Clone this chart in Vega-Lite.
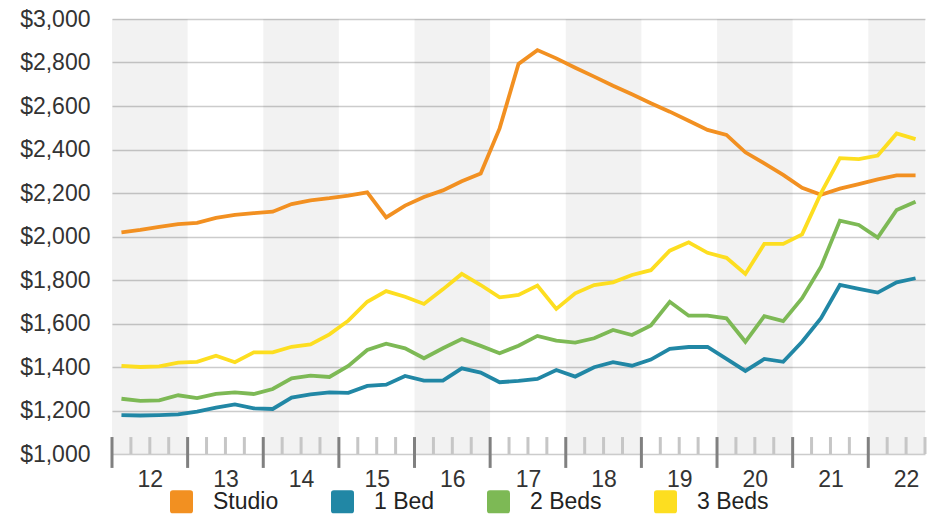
{
  "$schema": "https://vega.github.io/schema/vega-lite/v6.json",
  "width": 813,
  "height": 435,
  "autosize": {"type": "none"},
  "padding": {"left": 112, "top": 19, "right": 18, "bottom": 61},
  "background": "white",
  "config": {
    "view": {"stroke": null},
    "font": "Liberation Sans",
    "axis": {"labelFont": "Liberation Sans", "labelFontSize": 23, "labelColor": "#333"}
  },
  "datasets": {
    "bands": [
      {"start": 2012, "end": 2013},
      {"start": 2014, "end": 2015},
      {"start": 2016, "end": 2017},
      {"start": 2018, "end": 2019},
      {"start": 2020, "end": 2021},
      {"start": 2022, "end": 2022.75}
    ],
    "major": [
      {"t": 2012}, {"t": 2013}, {"t": 2014}, {"t": 2015}, {"t": 2016}, {"t": 2017},
      {"t": 2018}, {"t": 2019}, {"t": 2020}, {"t": 2021}, {"t": 2022}
    ],
    "minor": [
      {"t": 2012.25}, {"t": 2012.5}, {"t": 2012.75},
      {"t": 2013.25}, {"t": 2013.5}, {"t": 2013.75},
      {"t": 2014.25}, {"t": 2014.5}, {"t": 2014.75},
      {"t": 2015.25}, {"t": 2015.5}, {"t": 2015.75},
      {"t": 2016.25}, {"t": 2016.5}, {"t": 2016.75},
      {"t": 2017.25}, {"t": 2017.5}, {"t": 2017.75},
      {"t": 2018.25}, {"t": 2018.5}, {"t": 2018.75},
      {"t": 2019.25}, {"t": 2019.5}, {"t": 2019.75},
      {"t": 2020.25}, {"t": 2020.5}, {"t": 2020.75},
      {"t": 2021.25}, {"t": 2021.5}, {"t": 2021.75},
      {"t": 2022.25}, {"t": 2022.5}, {"t": 2022.75}
    ],
    "rents": [
      {"t": 2012.125, "type": "Studio", "rent": 2019},
      {"t": 2012.375, "type": "Studio", "rent": 2030},
      {"t": 2012.625, "type": "Studio", "rent": 2044},
      {"t": 2012.875, "type": "Studio", "rent": 2057},
      {"t": 2013.125, "type": "Studio", "rent": 2063},
      {"t": 2013.375, "type": "Studio", "rent": 2086},
      {"t": 2013.625, "type": "Studio", "rent": 2099},
      {"t": 2013.875, "type": "Studio", "rent": 2107},
      {"t": 2014.125, "type": "Studio", "rent": 2114},
      {"t": 2014.375, "type": "Studio", "rent": 2149},
      {"t": 2014.625, "type": "Studio", "rent": 2166},
      {"t": 2014.875, "type": "Studio", "rent": 2176},
      {"t": 2015.125, "type": "Studio", "rent": 2188},
      {"t": 2015.375, "type": "Studio", "rent": 2203},
      {"t": 2015.625, "type": "Studio", "rent": 2088},
      {"t": 2015.875, "type": "Studio", "rent": 2142},
      {"t": 2016.125, "type": "Studio", "rent": 2182},
      {"t": 2016.375, "type": "Studio", "rent": 2212},
      {"t": 2016.625, "type": "Studio", "rent": 2254},
      {"t": 2016.875, "type": "Studio", "rent": 2290},
      {"t": 2017.125, "type": "Studio", "rent": 2497},
      {"t": 2017.375, "type": "Studio", "rent": 2793},
      {"t": 2017.625, "type": "Studio", "rent": 2857},
      {"t": 2017.875, "type": "Studio", "rent": 2819},
      {"t": 2018.125, "type": "Studio", "rent": 2776},
      {"t": 2018.375, "type": "Studio", "rent": 2735},
      {"t": 2018.625, "type": "Studio", "rent": 2693},
      {"t": 2018.875, "type": "Studio", "rent": 2654},
      {"t": 2019.125, "type": "Studio", "rent": 2613},
      {"t": 2019.375, "type": "Studio", "rent": 2574},
      {"t": 2019.625, "type": "Studio", "rent": 2532},
      {"t": 2019.875, "type": "Studio", "rent": 2490},
      {"t": 2020.125, "type": "Studio", "rent": 2467},
      {"t": 2020.375, "type": "Studio", "rent": 2387},
      {"t": 2020.625, "type": "Studio", "rent": 2336},
      {"t": 2020.875, "type": "Studio", "rent": 2283},
      {"t": 2021.125, "type": "Studio", "rent": 2224},
      {"t": 2021.375, "type": "Studio", "rent": 2192},
      {"t": 2021.625, "type": "Studio", "rent": 2220},
      {"t": 2021.875, "type": "Studio", "rent": 2241},
      {"t": 2022.125, "type": "Studio", "rent": 2263},
      {"t": 2022.375, "type": "Studio", "rent": 2281},
      {"t": 2022.625, "type": "Studio", "rent": 2281},
      {"t": 2012.125, "type": "1 Bed", "rent": 1179},
      {"t": 2012.375, "type": "1 Bed", "rent": 1177},
      {"t": 2012.625, "type": "1 Bed", "rent": 1179},
      {"t": 2012.875, "type": "1 Bed", "rent": 1182},
      {"t": 2013.125, "type": "1 Bed", "rent": 1195},
      {"t": 2013.375, "type": "1 Bed", "rent": 1213},
      {"t": 2013.625, "type": "1 Bed", "rent": 1228},
      {"t": 2013.875, "type": "1 Bed", "rent": 1210},
      {"t": 2014.125, "type": "1 Bed", "rent": 1207},
      {"t": 2014.375, "type": "1 Bed", "rent": 1259},
      {"t": 2014.625, "type": "1 Bed", "rent": 1274},
      {"t": 2014.875, "type": "1 Bed", "rent": 1283},
      {"t": 2015.125, "type": "1 Bed", "rent": 1281},
      {"t": 2015.375, "type": "1 Bed", "rent": 1313},
      {"t": 2015.625, "type": "1 Bed", "rent": 1319},
      {"t": 2015.875, "type": "1 Bed", "rent": 1359},
      {"t": 2016.125, "type": "1 Bed", "rent": 1337},
      {"t": 2016.375, "type": "1 Bed", "rent": 1337},
      {"t": 2016.625, "type": "1 Bed", "rent": 1394},
      {"t": 2016.875, "type": "1 Bed", "rent": 1374},
      {"t": 2017.125, "type": "1 Bed", "rent": 1330},
      {"t": 2017.375, "type": "1 Bed", "rent": 1336},
      {"t": 2017.625, "type": "1 Bed", "rent": 1345},
      {"t": 2017.875, "type": "1 Bed", "rent": 1386},
      {"t": 2018.125, "type": "1 Bed", "rent": 1356},
      {"t": 2018.375, "type": "1 Bed", "rent": 1399},
      {"t": 2018.625, "type": "1 Bed", "rent": 1422},
      {"t": 2018.875, "type": "1 Bed", "rent": 1406},
      {"t": 2019.125, "type": "1 Bed", "rent": 1434},
      {"t": 2019.375, "type": "1 Bed", "rent": 1483},
      {"t": 2019.625, "type": "1 Bed", "rent": 1492},
      {"t": 2019.875, "type": "1 Bed", "rent": 1492},
      {"t": 2020.125, "type": "1 Bed", "rent": 1437},
      {"t": 2020.375, "type": "1 Bed", "rent": 1382},
      {"t": 2020.625, "type": "1 Bed", "rent": 1437},
      {"t": 2020.875, "type": "1 Bed", "rent": 1424},
      {"t": 2021.125, "type": "1 Bed", "rent": 1516},
      {"t": 2021.375, "type": "1 Bed", "rent": 1624},
      {"t": 2021.625, "type": "1 Bed", "rent": 1777},
      {"t": 2021.875, "type": "1 Bed", "rent": 1759},
      {"t": 2022.125, "type": "1 Bed", "rent": 1742},
      {"t": 2022.375, "type": "1 Bed", "rent": 1789},
      {"t": 2022.625, "type": "1 Bed", "rent": 1808},
      {"t": 2012.125, "type": "2 Beds", "rent": 1254},
      {"t": 2012.375, "type": "2 Beds", "rent": 1244},
      {"t": 2012.625, "type": "2 Beds", "rent": 1247},
      {"t": 2012.875, "type": "2 Beds", "rent": 1270},
      {"t": 2013.125, "type": "2 Beds", "rent": 1257},
      {"t": 2013.375, "type": "2 Beds", "rent": 1276},
      {"t": 2013.625, "type": "2 Beds", "rent": 1283},
      {"t": 2013.875, "type": "2 Beds", "rent": 1276},
      {"t": 2014.125, "type": "2 Beds", "rent": 1299},
      {"t": 2014.375, "type": "2 Beds", "rent": 1348},
      {"t": 2014.625, "type": "2 Beds", "rent": 1360},
      {"t": 2014.875, "type": "2 Beds", "rent": 1354},
      {"t": 2015.125, "type": "2 Beds", "rent": 1405},
      {"t": 2015.375, "type": "2 Beds", "rent": 1478},
      {"t": 2015.625, "type": "2 Beds", "rent": 1507},
      {"t": 2015.875, "type": "2 Beds", "rent": 1486},
      {"t": 2016.125, "type": "2 Beds", "rent": 1440},
      {"t": 2016.375, "type": "2 Beds", "rent": 1486},
      {"t": 2016.625, "type": "2 Beds", "rent": 1529},
      {"t": 2016.875, "type": "2 Beds", "rent": 1497},
      {"t": 2017.125, "type": "2 Beds", "rent": 1463},
      {"t": 2017.375, "type": "2 Beds", "rent": 1498},
      {"t": 2017.625, "type": "2 Beds", "rent": 1543},
      {"t": 2017.875, "type": "2 Beds", "rent": 1521},
      {"t": 2018.125, "type": "2 Beds", "rent": 1512},
      {"t": 2018.375, "type": "2 Beds", "rent": 1532},
      {"t": 2018.625, "type": "2 Beds", "rent": 1570},
      {"t": 2018.875, "type": "2 Beds", "rent": 1547},
      {"t": 2019.125, "type": "2 Beds", "rent": 1591},
      {"t": 2019.375, "type": "2 Beds", "rent": 1700},
      {"t": 2019.625, "type": "2 Beds", "rent": 1636},
      {"t": 2019.875, "type": "2 Beds", "rent": 1636},
      {"t": 2020.125, "type": "2 Beds", "rent": 1624},
      {"t": 2020.375, "type": "2 Beds", "rent": 1516},
      {"t": 2020.625, "type": "2 Beds", "rent": 1634},
      {"t": 2020.875, "type": "2 Beds", "rent": 1611},
      {"t": 2021.125, "type": "2 Beds", "rent": 1716},
      {"t": 2021.375, "type": "2 Beds", "rent": 1861},
      {"t": 2021.625, "type": "2 Beds", "rent": 2073},
      {"t": 2021.875, "type": "2 Beds", "rent": 2053},
      {"t": 2022.125, "type": "2 Beds", "rent": 1995},
      {"t": 2022.375, "type": "2 Beds", "rent": 2122},
      {"t": 2022.625, "type": "2 Beds", "rent": 2160},
      {"t": 2012.125, "type": "3 Beds", "rent": 1405},
      {"t": 2012.375, "type": "3 Beds", "rent": 1400},
      {"t": 2012.625, "type": "3 Beds", "rent": 1403},
      {"t": 2012.875, "type": "3 Beds", "rent": 1420},
      {"t": 2013.125, "type": "3 Beds", "rent": 1424},
      {"t": 2013.375, "type": "3 Beds", "rent": 1452},
      {"t": 2013.625, "type": "3 Beds", "rent": 1422},
      {"t": 2013.875, "type": "3 Beds", "rent": 1467},
      {"t": 2014.125, "type": "3 Beds", "rent": 1467},
      {"t": 2014.375, "type": "3 Beds", "rent": 1493},
      {"t": 2014.625, "type": "3 Beds", "rent": 1504},
      {"t": 2014.875, "type": "3 Beds", "rent": 1550},
      {"t": 2015.125, "type": "3 Beds", "rent": 1613},
      {"t": 2015.375, "type": "3 Beds", "rent": 1700},
      {"t": 2015.625, "type": "3 Beds", "rent": 1749},
      {"t": 2015.875, "type": "3 Beds", "rent": 1723},
      {"t": 2016.125, "type": "3 Beds", "rent": 1690},
      {"t": 2016.375, "type": "3 Beds", "rent": 1757},
      {"t": 2016.625, "type": "3 Beds", "rent": 1828},
      {"t": 2016.875, "type": "3 Beds", "rent": 1777},
      {"t": 2017.125, "type": "3 Beds", "rent": 1720},
      {"t": 2017.375, "type": "3 Beds", "rent": 1731},
      {"t": 2017.625, "type": "3 Beds", "rent": 1774},
      {"t": 2017.875, "type": "3 Beds", "rent": 1667},
      {"t": 2018.125, "type": "3 Beds", "rent": 1739},
      {"t": 2018.375, "type": "3 Beds", "rent": 1777},
      {"t": 2018.625, "type": "3 Beds", "rent": 1789},
      {"t": 2018.875, "type": "3 Beds", "rent": 1823},
      {"t": 2019.125, "type": "3 Beds", "rent": 1845},
      {"t": 2019.375, "type": "3 Beds", "rent": 1935},
      {"t": 2019.625, "type": "3 Beds", "rent": 1973},
      {"t": 2019.875, "type": "3 Beds", "rent": 1925},
      {"t": 2020.125, "type": "3 Beds", "rent": 1902},
      {"t": 2020.375, "type": "3 Beds", "rent": 1828},
      {"t": 2020.625, "type": "3 Beds", "rent": 1966},
      {"t": 2020.875, "type": "3 Beds", "rent": 1966},
      {"t": 2021.125, "type": "3 Beds", "rent": 2010},
      {"t": 2021.375, "type": "3 Beds", "rent": 2199},
      {"t": 2021.625, "type": "3 Beds", "rent": 2360},
      {"t": 2021.875, "type": "3 Beds", "rent": 2356},
      {"t": 2022.125, "type": "3 Beds", "rent": 2372},
      {"t": 2022.375, "type": "3 Beds", "rent": 2474},
      {"t": 2022.625, "type": "3 Beds", "rent": 2448}
    ]
  },
  "layer": [
    {
      "data": {"name": "bands"},
      "mark": {"type": "rect", "color": "#000", "opacity": 0.05},
      "encoding": {
        "x": {"field": "start", "type": "quantitative", "title": null},
        "x2": {"field": "end"}
      }
    },
    {
      "data": {"name": "rents"},
      "mark": {"type": "line", "strokeWidth": 3.8, "strokeJoin": "miter"},
      "encoding": {
        "x": {
          "field": "t",
          "type": "quantitative",
          "title": null,
          "scale": {"domain": [2012, 2022.75], "nice": false, "zero": false},
          "axis": {
            "values": [2012.5, 2013.5, 2014.5, 2015.5, 2016.5, 2017.5, 2018.5, 2019.5, 2020.5, 2021.5, 2022.5],
            "labelExpr": "substring(toString(floor(datum.value)), 2)",
            "ticks": false,
            "tickSize": 0,
            "domain": false,
            "grid": false,
            "labelPadding": 14,
            "labelFlush": false,
            "labelOverlap": false
          }
        },
        "y": {
          "field": "rent",
          "type": "quantitative",
          "title": null,
          "scale": {"domain": [1000, 3000], "nice": false, "zero": false},
          "axis": {
            "values": [1000, 1200, 1400, 1600, 1800, 2000, 2200, 2400, 2600, 2800, 3000],
            "format": "$,d",
            "ticks": false,
            "tickSize": 0,
            "domain": false,
            "grid": true,
            "gridColor": "#cccccc",
            "gridWidth": 1.5,
            "labelPadding": 22,
            "labelFlush": false,
            "labelOverlap": false
          }
        },
        "color": {
          "field": "type",
          "type": "nominal",
          "sort": ["Studio", "1 Bed", "2 Beds", "3 Beds"],
          "scale": {
            "domain": ["Studio", "1 Bed", "2 Beds", "3 Beds"],
            "range": ["#F29021", "#2187A5", "#7DB955", "#FDDE20"]
          },
          "legend": {
            "title": null,
            "orient": "none",
            "legendX": 58,
            "legendY": 471,
            "direction": "horizontal",
            "padding": 0,
            "symbolType": "M-0.75,-1H0.75Q1,-1,1,-0.75V0.75Q1,1,0.75,1H-0.75Q-1,1,-1,0.75V-0.75Q-1,-1,-0.75,-1Z",
            "symbolSize": 529,
            "symbolStrokeWidth": 0,
            "labelFontSize": 23,
            "labelFont": "Liberation Sans",
            "labelColor": "#222",
            "labelOffset": 20,
            "columnPadding": 52,
            "encode": {
              "symbols": {"update": {"fill": {"scale": "color", "field": "value"}, "strokeWidth": {"value": 0}, "opacity": {"value": 1}}}
            }
          }
        }
      }
    },
    {
      "data": {"name": "minor"},
      "mark": {"type": "rule", "color": "#c6c6c6", "strokeWidth": 3, "clip": false},
      "encoding": {
        "x": {"field": "t", "type": "quantitative", "title": null},
        "y": {"datum": 1078, "type": "quantitative"},
        "y2": {"datum": 1000}
      }
    },
    {
      "data": {"name": "major"},
      "mark": {"type": "rule", "color": "#808080", "strokeWidth": 3, "clip": false},
      "encoding": {
        "x": {"field": "t", "type": "quantitative", "title": null},
        "y": {"datum": 1078, "type": "quantitative"},
        "y2": {"datum": 936}
      }
    }
  ]
}
